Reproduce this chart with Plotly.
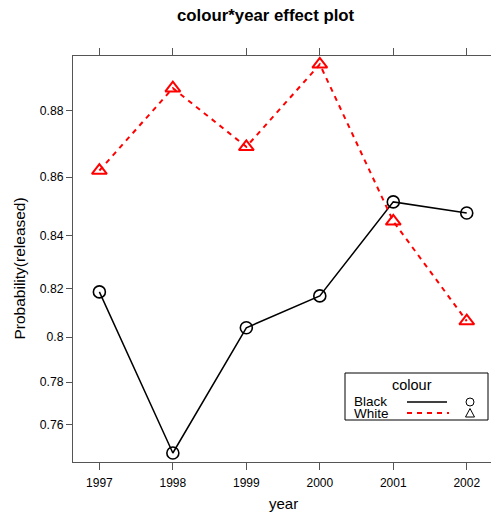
import numpy as np
import plotly.graph_objects as go

years = [1997, 1998, 1999, 2000, 2001, 2002]
black_prob = [0.8187, 0.7457, 0.8040, 0.8171, 0.8518, 0.8480]
white_prob = [0.8621, 0.8863, 0.8695, 0.8926, 0.8451, 0.8068]
ytick_probs = [0.76, 0.78, 0.80, 0.82, 0.84, 0.86, 0.88]
ytick_labels = ["0.76", "0.78", "0.8", "0.82", "0.84", "0.86", "0.88"]


def logit(p):
    p = np.asarray(p, dtype=float)
    return np.log(p / (1 - p))


FONT = "Liberation Sans, Arial, Helvetica, sans-serif"
AXC = "#555555"

fig = go.Figure()
fig.add_trace(go.Scatter(
    x=years, y=logit(black_prob), mode="lines+markers", name="Black",
    line=dict(color="black", width=1.5),
    marker=dict(symbol="circle-open", size=12, color="black", line=dict(width=1.6)),
    showlegend=False, cliponaxis=False))
fig.add_trace(go.Scatter(
    x=years, y=logit(white_prob), mode="lines+markers", name="White",
    line=dict(color="#ff0000", width=2, dash="5px,5px"),
    marker=dict(symbol="triangle-up-open", size=13, color="#ff0000", line=dict(width=2)),
    showlegend=False, cliponaxis=False))

W, H = 491, 512
L, R, T, B = 73, 0, 56, 50
pw, ph = W - L - R, H - T - B


def px(x):
    return (x - L) / pw


def py(y):
    return (H - B - y) / ph


cx, cy1, cy2 = 470, 402, 413
tri = "M {} {} L {} {} L {} {} Z".format(
    px(cx - 4.5), py(cy2 + 4), px(cx + 4.5), py(cy2 + 4), px(cx), py(cy2 - 4.5))

shapes = [
    dict(type="rect", xref="paper", yref="paper", x0=px(345), x1=px(488), y0=py(420), y1=py(373),
         line=dict(color="black", width=1), fillcolor="white", layer="above"),
    dict(type="line", xref="paper", yref="paper", x0=px(407), x1=px(447), y0=py(cy1), y1=py(cy1),
         line=dict(color="black", width=1.5), layer="above"),
    dict(type="line", xref="paper", yref="paper", x0=px(407), x1=px(449), y0=py(cy2), y1=py(cy2),
         line=dict(color="#ff0000", width=2, dash="5px,5px"), layer="above"),
    dict(type="circle", xref="paper", yref="paper", x0=px(cx - 4), x1=px(cx + 4), y0=py(cy1 + 4), y1=py(cy1 - 4),
         line=dict(color="black", width=1), layer="above"),
    dict(type="path", xref="paper", yref="paper", path=tri,
         line=dict(color="black", width=1), layer="above"),
]

annotations = [
    dict(text="<b>colour*year effect plot</b>", xref="paper", yref="paper", x=px(265.5), y=py(16),
         showarrow=False, font=dict(size=16.8, family=FONT, color="black"), xanchor="center", yanchor="middle"),
    dict(text="Probability(released)", xref="paper", yref="paper", x=px(18.5), y=py(269), textangle=-90,
         showarrow=False, font=dict(size=15.5, family=FONT, color="black"), xanchor="center", yanchor="middle"),
    dict(text="year", xref="paper", yref="paper", x=px(283), y=py(503), borderpad=0,
         showarrow=False, font=dict(size=15, family=FONT, color="black"), xanchor="center", yanchor="middle"),
    dict(text="colour", xref="paper", yref="paper", x=px(412), y=py(385), showarrow=False, borderpad=0,
         font=dict(size=14.5, family=FONT, color="black"), xanchor="center", yanchor="middle"),
    dict(text="Black", xref="paper", yref="paper", x=px(353), y=py(401), showarrow=False, borderpad=0,
         font=dict(size=13.5, family=FONT, color="black"), xanchor="left", yanchor="middle"),
    dict(text="White", xref="paper", yref="paper", x=px(353), y=py(413.5), showarrow=False, borderpad=0,
         font=dict(size=13.5, family=FONT, color="black"), xanchor="left", yanchor="middle"),
]

fig.update_layout(
    width=W, height=H,
    margin=dict(l=L, r=R, t=T, b=B, pad=0),
    paper_bgcolor="white", plot_bgcolor="white",
    font=dict(family=FONT, size=12, color="black"),
    shapes=shapes, annotations=annotations,
    xaxis=dict(
        range=[1996.641, 2002.33], tickvals=years, ticktext=[str(y) for y in years],
        showgrid=False, zeroline=False, showline=True, linecolor=AXC, linewidth=1,
        mirror="ticks", ticks="outside", ticklen=7, tickcolor=AXC, tickwidth=1,
        tickfont=dict(size=12, family=FONT, color="black"), ticklabelstandoff=3,
    ),
    yaxis=dict(
        range=[1.0517, 2.1398], tickvals=logit(ytick_probs), ticktext=ytick_labels,
        showgrid=False, zeroline=False, showline=True, linecolor=AXC, linewidth=1,
        mirror=False, ticks="outside", ticklen=6, tickcolor=AXC, tickwidth=1,
        tickfont=dict(size=12.2, family=FONT, color="black"),
    ),
)

fig.write_html("out.html")
